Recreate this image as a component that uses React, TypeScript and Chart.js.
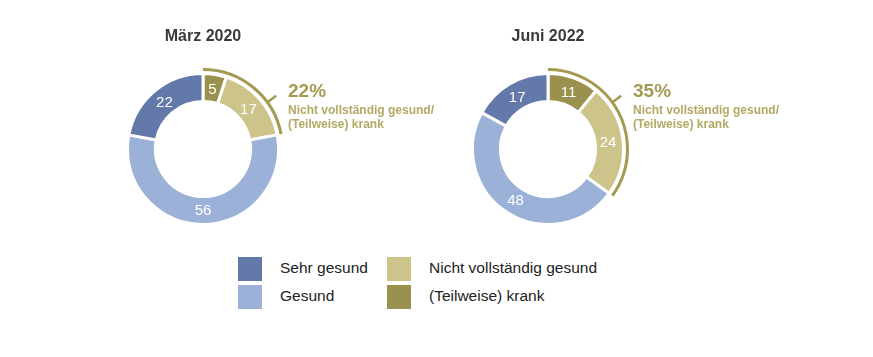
import React, { useEffect, useRef } from "react";
import { Chart, registerables } from "chart.js";

Chart.register(...registerables);

// ---- data ----
const categories = ["(Teilweise) krank", "Nicht vollständig gesund", "Gesund", "Sehr gesund"];
const values2020 = [5, 17, 56, 22];
const values2022 = [11, 24, 48, 17];
const titles = ["März 2020", "Juni 2022"];
const shareSubLines = ["Nicht vollständig gesund/", "(Teilweise) krank"];
const legendOrder = ["Sehr gesund", "Nicht vollständig gesund", "Gesund", "(Teilweise) krank"];

// ---- styles ----
const colors: Record<string, string> = {
  "(Teilweise) krank": "#9b914e",
  "Nicht vollständig gesund": "#cdc48c",
  Gesund: "#9bb1d8",
  "Sehr gesund": "#6279a9",
};
const OLIVE = "#a49a52";
const OLIVE_LIGHT = "#b3a964";
const FONT = '"Liberation Sans", Arial, Helvetica, sans-serif';

type DonutProps = {
  values: number[];
  title: string;
  left: number;
  width: number;
  cx: number; // local center x
  cy: number;
};

const H = 240;
const HALF = 77;

function Donut({ values, title, left, width, cx, cy }: DonutProps) {
  const ref = useRef<HTMLCanvasElement | null>(null);

  useEffect(() => {
    if (!ref.current) return;
    const overlay = {
      id: "overlay",
      afterDatasetsDraw(chart: any) {
        const ctx = chart.ctx as CanvasRenderingContext2D;
        const meta = chart.getDatasetMeta(0);
        const arcs = meta.data as any[];
        if (!arcs.length) return;
        const p0 = arcs[0].getProps(["x", "y", "outerRadius", "innerRadius"], true);
        const x0 = p0.x, y0 = p0.y;
        const outer = p0.outerRadius, inner = p0.innerRadius;
        ctx.save();
        // value labels
        ctx.fillStyle = "#ffffff";
        ctx.font = `15px ${FONT}`;
        ctx.textAlign = "center";
        ctx.textBaseline = "middle";
        const lr = (outer + inner) / 2 - 1;
        arcs.forEach((a, i) => {
          const p = a.getProps(["startAngle", "endAngle"], true);
          const mid = (p.startAngle + p.endAngle) / 2;
          ctx.fillText(String(values[i]), x0 + Math.cos(mid) * lr, y0 + Math.sin(mid) * lr + 1);
        });
        // bracket arc over first two segments
        const pEnd = arcs[1].getProps(["endAngle"], true);
        const start = arcs[0].getProps(["startAngle"], true).startAngle;
        const ar = outer + 4;
        ctx.strokeStyle = OLIVE;
        ctx.lineWidth = 3;
        ctx.lineCap = "butt";
        ctx.beginPath();
        ctx.arc(x0, y0, ar, start, pEnd.endAngle);
        ctx.stroke();
        // tick
        const ta = -Math.PI / 2 + (54 * Math.PI) / 180;
        ctx.lineWidth = 2.5;
        ctx.beginPath();
        ctx.moveTo(x0 + Math.cos(ta) * ar, y0 + Math.sin(ta) * ar);
        ctx.lineTo(x0 + Math.cos(ta) * (ar + 11), y0 + Math.sin(ta) * (ar + 11));
        ctx.stroke();
        // share text
        const share = values[0] + values[1];
        ctx.textAlign = "left";
        ctx.textBaseline = "alphabetic";
        ctx.fillStyle = OLIVE;
        ctx.font = `bold 19px ${FONT}`;
        ctx.fillText(`${share}%`, x0 + 85, y0 - 52);
        ctx.fillStyle = OLIVE_LIGHT;
        ctx.font = `bold 12px ${FONT}`;
        ctx.fillText(shareSubLines[0], x0 + 85, y0 - 35);
        ctx.fillText(shareSubLines[1], x0 + 85, y0 - 21);
        // title
        ctx.fillStyle = "#3a3a3a";
        ctx.font = `bold 16px ${FONT}`;
        ctx.textAlign = "center";
        ctx.fillText(title, x0, y0 - 108);
        ctx.restore();
      },
    };

    const chart = new Chart(ref.current, {
      type: "doughnut",
      data: {
        labels: categories,
        datasets: [
          {
            data: values,
            backgroundColor: categories.map((c) => colors[c]),
            borderColor: "#ffffff",
            borderWidth: 3,
            hoverOffset: 0,
          },
        ],
      },
      options: {
        responsive: false,
        animation: false,
        cutout: "63%",
        layout: {
          padding: {
            left: cx - HALF,
            right: width - (cx + HALF),
            top: cy - HALF,
            bottom: H - (cy + HALF),
          },
        },
        plugins: {
          legend: { display: false },
          tooltip: { enabled: false },
          title: { display: false },
        },
        events: [],
      },
      plugins: [overlay],
    });
    return () => chart.destroy();
  }, [values, title, width, cx, cy]);

  return (
    <canvas
      ref={ref}
      width={width}
      height={H}
      style={{ position: "absolute", left, top: 0, width, height: H }}
    />
  );
}

export default function App() {
  const legendPos = [
    { left: 238, top: 257 },
    { left: 387, top: 257 },
    { left: 238, top: 285 },
    { left: 387, top: 285 },
  ];
  return (
    <div
      style={{
        position: "absolute",
        left: 0,
        top: 0,
        width: 873,
        height: 357,
        background: "#ffffff",
        overflow: "hidden",
        fontFamily: FONT,
      }}
    >
      <Donut values={values2020} title={titles[0]} left={0} width={436} cx={203} cy={149} />
      <Donut values={values2022} title={titles[1]} left={436} width={437} cx={112} cy={149} />
      {legendOrder.map((name, i) => (
        <div
          key={name}
          style={{
            position: "absolute",
            left: legendPos[i].left,
            top: legendPos[i].top,
            height: 24,
            display: "flex",
            alignItems: "center",
            whiteSpace: "nowrap",
          }}
        >
          <span style={{ display: "inline-block", width: 24, height: 24, background: colors[name] }} />
          <span style={{ marginLeft: 18, fontSize: 15.5, color: "#222222", lineHeight: "24px", position: "relative", top: -1 }}>
            {name}
          </span>
        </div>
      ))}
    </div>
  );
}
